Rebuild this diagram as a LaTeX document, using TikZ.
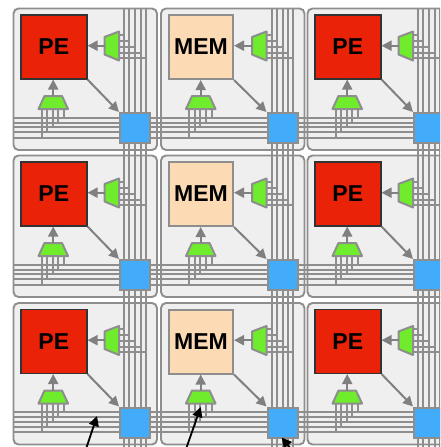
\documentclass[tikz,border=0pt]{standalone}
\usepackage{fontspec}
\setmainfont{Liberation Sans}
\usetikzlibrary{arrows.meta}
\definecolor{wiregray}{HTML}{8E8E8E}
\definecolor{panelfill}{HTML}{EFEFEF}
\definecolor{pered}{HTML}{EA2207}
\definecolor{memtan}{HTML}{FBDAB4}
\definecolor{muxgreen}{HTML}{6FEC2C}
\definecolor{swblue}{HTML}{42ACFA}
\tikzset{
  panel/.style={draw=wiregray,fill=panelfill,line width=1.9pt,rounded corners=5pt},
  wire/.style={draw=wiregray,line width=2pt},
  muxshape/.style={draw=wiregray,fill=muxgreen,line width=2pt,line join=round},
  pebox/.style={draw=black!80,fill=pered,line width=1.5pt,minimum width=66pt,minimum height=64pt,inner sep=0pt,anchor=north west,font=\fontsize{23}{23}\selectfont\bfseries},
  membox/.style={draw=wiregray,fill=memtan,line width=2pt,minimum width=64pt,minimum height=64pt,inner sep=0pt,anchor=north west,font=\fontsize{23}{23}\selectfont\bfseries},
  swbox/.style={draw=wiregray,fill=swblue,line width=2.2pt,minimum width=30pt,minimum height=30pt,inner sep=0pt,anchor=north west},
  feed/.style={draw=gray,line width=2pt,-{Triangle[length=10pt,width=10pt]}},
  callout/.style={draw=black,line width=1.8pt,-{Triangle[length=10pt,width=10pt]}},
}
\newcommand{\tilerow}[4]{%
  \foreach \dy in {0,147,294.5}{%
  \begin{scope}[shift={(#1,\dy)}]
    \path[wire] (117,34.5) -- (124,34.5);
    \path[wire] (117,40.5) -- (129,40.5);
    \path[wire] (117,46.5) -- (135,46.5);
    \path[wire] (117,52.5) -- (140.5,52.5);
    \path[wire] (117,57.5) -- (145.5,57.5);
    \path[wire] (41.7,107) -- (41.7,137.5);
    \path[wire] (47.3,107) -- (47.3,132);
    \path[wire] (52.7,107) -- (52.7,127);
    \path[wire] (58.3,107) -- (58.3,122.5);
    \path[wire] (64,107) -- (64,117.5);
    \node[#2] (core) at (#4,14) {#3};
    \node[swbox] (sw) at (119,112) {};
    \path[muxshape] (104.5,37) -- (119,31.5) -- (119,60.5) -- (104.5,54.5) -- cycle;
    \path[muxshape] (44.5,96) -- (62,96) -- (68,109) -- (38.5,109) -- cycle;
    \coordinate (muxe) at (104.5,45.7);
    \coordinate (muxs) at (53.2,96);
    \path[feed] (muxe) -- (core.east|-muxe);
    \path[feed] (muxs) -- (core.south-|muxs);
    \path[feed] (core.south east) -- (sw.north west);
  \end{scope}}}
\begin{document}
\begin{tikzpicture}[x=1pt,y=-1pt]
\path[use as bounding box] (0,0) rectangle (440,447);
\clip (0,0) rectangle (440,447);
% panels
\foreach \dx in {0,147.5,294}
  \foreach \dy in {0,147,294.5}
    \path[panel] (13.5+\dx,8.5+\dy) rectangle (157+\dx,150+\dy);
% buses
\foreach \dx in {0,147.5,294}
  \foreach \vx in {124,129,135,140.5,145.5}
    \path[wire] (\vx+\dx,8.5) -- (\vx+\dx,447);
\foreach \dy in {0,147,294.5}
  \foreach \hy in {117.5,122.5,127,132,137.5}
    \path[wire] (13.5,\hy+\dy) -- (440,\hy+\dy);
% tile contents
\tilerow{0}{pebox}{PE}{20}
\tilerow{147.5}{membox}{MEM}{20.5}
\tilerow{294}{pebox}{PE}{20}
% callouts
\coordinate (a1) at (86,449);
\coordinate (a2) at (97,416);
\coordinate (b1) at (186,449);
\coordinate (b2) at (200.7,407);
\coordinate (c1) at (291,449);
\coordinate (c2) at (281.7,437.5);
\draw[callout] (a1) -- (a2);
\draw[callout] (b1) -- (b2);
\draw[callout] (c1) -- (c2);
\end{tikzpicture}
\end{document}
